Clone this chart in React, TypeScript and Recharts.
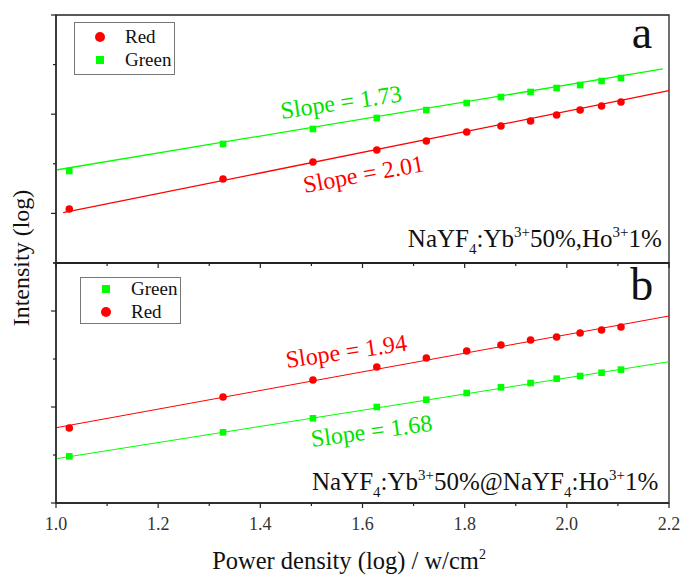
import {
  ScatterChart,
  Scatter,
  XAxis,
  YAxis,
  ReferenceLine,
  ReferenceDot,
  ReferenceArea,
  Legend,
} from "recharts";

const serif = "Liberation Serif";
const RED = "#ff0000";
const GREEN = "#00ff00";
const GREEN_TEXT = "#00e000";
const AXIS = "#222";

// power density (log)
const power = [1.026, 1.327, 1.503, 1.628, 1.725, 1.804, 1.871, 1.929, 1.98, 2.026, 2.068, 2.106];

// panel a: NaYF4:Yb 50%, Ho 1%
const redA = [0.544, 0.847, 1.018, 1.139, 1.23, 1.321, 1.381, 1.431, 1.492, 1.542, 1.583, 1.623];
const greenA = [0.927, 1.2, 1.351, 1.462, 1.542, 1.613, 1.673, 1.724, 1.764, 1.794, 1.835, 1.865];

// panel b: NaYF4:Yb 50% @ NaYF4:Ho 1%
const redB = [0.781, 1.104, 1.281, 1.417, 1.51, 1.583, 1.646, 1.698, 1.729, 1.771, 1.802, 1.833];
const greenB = [0.486, 0.736, 0.882, 1.0, 1.076, 1.146, 1.205, 1.25, 1.295, 1.323, 1.357, 1.389];

// fit lines: [start, end]
const fitRedA = [{ x: 1.014, y: 0.507 }, { x: 2.2, y: 1.737 }];
const fitGreenA = [{ x: 1.0, y: 0.9375 }, { x: 2.188, y: 1.956 }];
const fitRedB = [{ x: 1.0, y: 0.784 }, { x: 2.2, y: 1.948 }];
const fitGreenB = [{ x: 1.0, y: 0.461 }, { x: 2.2, y: 1.472 }];

const xTicks = [1.0, 1.1, 1.2, 1.3, 1.4, 1.5, 1.6, 1.7, 1.8, 1.9, 2.0, 2.1, 2.2];
const yTicks = [0, 0.5, 1, 1.5, 2, 2.5];

const toPoints = (ys: number[]) => ys.map((y, i) => ({ x: power[i], y }));

const Circle = (p: any) => <circle cx={p.cx} cy={p.cy} r={3.8} fill={RED} />;
const Square = (p: any) => <rect x={p.cx - 3.3} y={p.cy - 3.3} width={6.6} height={6.6} fill={GREEN} />;

function XTick({ x, y, payload, showLabel }: any) {
  const major = Math.round(payload.value * 10) % 2 === 0;
  return (
    <g>
      <line x1={x} x2={x} y1={y} y2={y + (major ? 5 : 3)} stroke={AXIS} strokeWidth={1.2} />
      {showLabel && major && (
        <text x={x} y={y + 27} textAnchor="middle" fontSize={18} fill="#333" fontFamily={serif}>
          {payload.value.toFixed(1)}
        </text>
      )}
    </g>
  );
}

function YTick({ x, y, payload, isMajor }: any) {
  const len = isMajor(payload.value) ? 5 : 3;
  return <line x1={x - len} x2={x} y1={y} y2={y} stroke={AXIS} strokeWidth={1.2} />;
}

function SlopeText({ cx, cy, text, color, angle }: any) {
  return (
    <text x={cx} y={cy} fill={color} fontSize={24} fontFamily={serif} transform={`rotate(${angle}, ${cx}, ${cy})`}>
      {text}
    </text>
  );
}

function legendContent(order: string[], rowTop: number, textX: number, w: number, h: number) {
  return (props: any) => {
    const items = [...(props.payload || [])].sort(
      (a: any, b: any) => order.indexOf(a.value) - order.indexOf(b.value)
    );
    return (
      <svg width={w} height={h} style={{ display: "block" }}>
        <rect x={0.5} y={0.5} width={w - 1} height={h - 1} fill="#fff" stroke="#777" />
        {items.map((e: any, i: number) => {
          const cy = rowTop + i * 23;
          return (
            <g key={i}>
              {e.type === "circle" ? (
                <circle cx={26} cy={cy} r={5} fill={e.color} />
              ) : (
                <rect x={22} y={cy - 4} width={8} height={8} fill={e.color} />
              )}
              <text x={textX} y={cy + 6} fontSize={19} fontFamily={serif} fill="#111">
                {e.value}
              </text>
            </g>
          );
        })}
      </svg>
    );
  };
}

export default function App() {
  const axisLine = { stroke: AXIS, strokeWidth: 1.3 };
  const majorA = (v: number) => Math.round(v * 2) % 2 === 1;
  const majorB = (v: number) => Math.round(v * 2) % 2 === 0;

  return (
    <div style={{ position: "absolute", left: 0, top: 0, width: 681, height: 575, background: "#fff" }}>
      {/* panel a */}
      <div style={{ position: "absolute", left: 0, top: 0 }}>
        <ScatterChart width={681} height={268} margin={{ top: 15, right: 12, bottom: 0, left: 0 }}>
          <XAxis
            type="number"
            dataKey="x"
            domain={[1, 2.2]}
            ticks={xTicks}
            interval={0}
            height={5}
            tickSize={0}
            tickMargin={0}
            tickLine={false}
            axisLine={axisLine}
            tick={(p: any) => <XTick {...p} showLabel={false} />}
          />
          <YAxis
            type="number"
            dataKey="y"
            domain={[0, 2.5]}
            ticks={yTicks}
            interval={0}
            width={56}
            tickSize={0}
            tickMargin={0}
            tickLine={false}
            axisLine={axisLine}
            tick={(p: any) => <YTick {...p} isMajor={majorA} />}
          />
          <ReferenceArea x1={1} x2={2.2} y1={0} y2={2.5} fill="none" stroke={AXIS} strokeWidth={1.3} ifOverflow="visible" />
          <ReferenceLine segment={fitRedA} stroke={RED} strokeWidth={1.3} ifOverflow="visible" />
          <ReferenceLine segment={fitGreenA} stroke={GREEN} strokeWidth={1.3} ifOverflow="visible" />
          <Scatter name="Red" data={toPoints(redA)} fill={RED} legendType="circle" shape={Circle} isAnimationActive={false} />
          <Scatter name="Green" data={toPoints(greenA)} fill={GREEN} legendType="square" shape={Square} isAnimationActive={false} />
          <ReferenceDot x={1.442} y={1.452} r={0} ifOverflow="visible"
            shape={(p: any) => <SlopeText {...p} text="Slope = 1.73" color={GREEN_TEXT} angle={-8.3} />} />
          <ReferenceDot x={1.487} y={0.706} r={0} ifOverflow="visible"
            shape={(p: any) => <SlopeText {...p} text="Slope = 2.01" color={RED} angle={-10.3} />} />
          <ReferenceDot x={2.167} y={2.167} r={0} ifOverflow="visible"
            shape={(p: any) => (
              <text x={p.cx} y={p.cy} textAnchor="end" fontSize={46} fontFamily={serif} fill="#111">a</text>
            )} />
          <ReferenceDot x={2.186} y={0.161} r={0} ifOverflow="visible"
            shape={(p: any) => (
              <text x={p.cx} y={p.cy} textAnchor="end" fontSize={25} fontFamily={serif} fill="#111">
                NaYF<tspan dy={7} fontSize={15}>4</tspan>
                <tspan dy={-7}>:Yb</tspan>
                <tspan dy={-10} fontSize={15}>3+</tspan>
                <tspan dy={10}>50%,Ho</tspan>
                <tspan dy={-10} fontSize={15}>3+</tspan>
                <tspan dy={10}>1%</tspan>
              </text>
            )} />
          <Legend
            layout="vertical"
            align="center"
            verticalAlign="middle"
            wrapperStyle={{ left: 74, top: 22, width: 101, height: 53 }}
            content={legendContent(["Red", "Green"], 15, 51, 101, 53)}
          />
        </ScatterChart>
      </div>

      {/* panel b */}
      <div style={{ position: "absolute", left: 0, top: 258 }}>
        <ScatterChart width={681} height={317} margin={{ top: 5, right: 12, bottom: 0, left: 0 }}>
          <XAxis
            type="number"
            dataKey="x"
            domain={[1, 2.2]}
            ticks={xTicks}
            interval={0}
            height={72}
            tickSize={0}
            tickMargin={0}
            tickLine={false}
            axisLine={axisLine}
            tick={(p: any) => <XTick {...p} showLabel />}
          />
          <YAxis
            type="number"
            dataKey="y"
            domain={[0, 2.5]}
            ticks={yTicks}
            interval={0}
            width={56}
            tickSize={0}
            tickMargin={0}
            tickLine={false}
            axisLine={axisLine}
            tick={(p: any) => <YTick {...p} isMajor={majorB} />}
          />
          <ReferenceArea x1={1} x2={2.2} y1={0} y2={2.5} fill="none" stroke={AXIS} strokeWidth={1.3} ifOverflow="visible" />
          <ReferenceLine segment={fitRedB} stroke={RED} strokeWidth={1} ifOverflow="visible" />
          <ReferenceLine segment={fitGreenB} stroke={GREEN} strokeWidth={1} ifOverflow="visible" />
          <Scatter name="Green" data={toPoints(greenB)} fill={GREEN} legendType="square" shape={Square} isAnimationActive={false} />
          <Scatter name="Red" data={toPoints(redB)} fill={RED} legendType="circle" shape={Circle} isAnimationActive={false} />
          <ReferenceDot x={1.452} y={1.406} r={0} ifOverflow="visible"
            shape={(p: any) => <SlopeText {...p} text="Slope = 1.94" color={RED} angle={-8.3} />} />
          <ReferenceDot x={1.501} y={0.583} r={0} ifOverflow="visible"
            shape={(p: any) => <SlopeText {...p} text="Slope = 1.68" color={GREEN_TEXT} angle={-7.7} />} />
          <ReferenceDot x={2.169} y={2.115} r={0} ifOverflow="visible"
            shape={(p: any) => (
              <text x={p.cx} y={p.cy} textAnchor="end" fontSize={46} fontFamily={serif} fill="#111">b</text>
            )} />
          <ReferenceDot x={2.179} y={0.135} r={0} ifOverflow="visible"
            shape={(p: any) => (
              <text x={p.cx} y={p.cy} textAnchor="end" fontSize={25} fontFamily={serif} fill="#111">
                NaYF<tspan dy={7} fontSize={15}>4</tspan>
                <tspan dy={-7}>:Yb</tspan>
                <tspan dy={-10} fontSize={15}>3+</tspan>
                <tspan dy={10}>50%@NaYF</tspan>
                <tspan dy={7} fontSize={15}>4</tspan>
                <tspan dy={-7}>:Ho</tspan>
                <tspan dy={-10} fontSize={15}>3+</tspan>
                <tspan dy={10}>1%</tspan>
              </text>
            )} />
          <Legend
            layout="vertical"
            align="center"
            verticalAlign="middle"
            wrapperStyle={{ left: 80, top: 19, width: 101, height: 47 }}
            content={legendContent(["Green", "Red"], 12, 51, 101, 47)}
          />
        </ScatterChart>
      </div>

      {/* axis titles */}
      <svg width={681} height={575} style={{ position: "absolute", left: 0, top: 0, pointerEvents: "none" }}>
        <text x={29} y={258} transform="rotate(-90, 29, 258)" textAnchor="middle" fontSize={24} fontFamily={serif} fill="#111">
          Intensity (log)
        </text>
        <text x={349} y={569} textAnchor="middle" fontSize={24.5} fontFamily={serif} fill="#111">
          Power density (log) / w/cm<tspan dy={-10} fontSize={14}>2</tspan>
        </text>
      </svg>
    </div>
  );
}
